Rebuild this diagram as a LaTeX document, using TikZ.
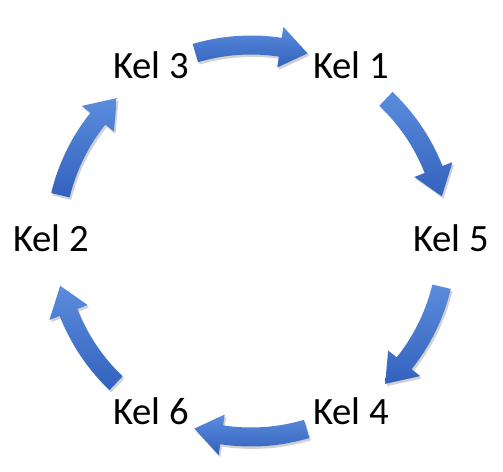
\documentclass[tikz,border=0pt]{standalone}
\usepackage{fontspec}
\setmainfont{Carlito}
\usetikzlibrary{shadows}
\definecolor{arrowlight}{HTML}{5C8CDC}
\definecolor{arrowdark}{HTML}{3262BD}
\tikzset{
  kel/.style={font=\fontsize{29}{34}\selectfont, inner sep=0pt},
  cyclearrow/.style={top color=arrowlight, bottom color=arrowdark, draw=none,
    drop shadow={opacity=0.18, shadow xshift=1.2pt, shadow yshift=-1.8pt, fill=black}}
}

\begin{document}
\begin{tikzpicture}[x=0.75pt, y=0.75pt]
  \useasboundingbox (0,0) rectangle (503,471);
  \coordinate (c) at (251,230);

  \node[kel] (kel1) at (351,406) {Kel 1};
  \node[kel] (kel5) at (451,233) {Kel 5};
  \node[kel] (kel4) at (351,60) {Kel 4};
  \node[kel] (kel6) at (151,60) {Kel 6};
  \node[kel] (kel2) at (51,233) {Kel 2};
  \node[kel] (kel3) at (151,406) {Kel 3};

  % one arrow between each pair of labels, clockwise
  \foreach \a in {90,30,-30,-90,-150,150} {
    \path[cyclearrow, shift={(c)}]
      (\a+16.5:205.5) arc[start angle=\a+16.5, end angle=\a-8.6, radius=205.5]
      -- (\a-8.6:216.5) -- (\a-16.8:196) -- (\a-8.6:175.5) -- (\a-8.6:186.5)
      arc[start angle=\a-8.6, end angle=\a+16.5, radius=186.5] -- cycle;
  }
\end{tikzpicture}
\end{document}
